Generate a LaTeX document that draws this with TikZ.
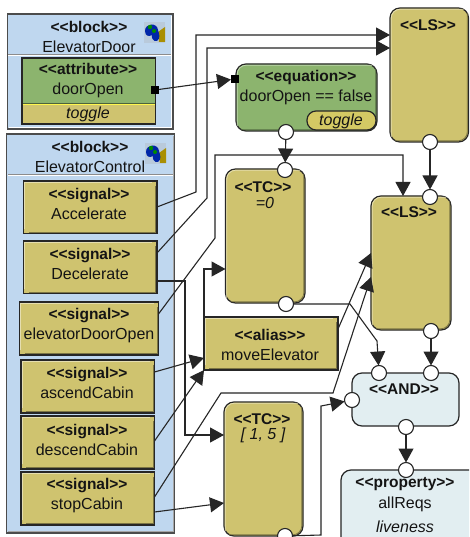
\documentclass[tikz,border=0pt]{standalone}
\usepackage{fontspec}
\setmainfont{Liberation Sans}
\usetikzlibrary{calc,arrows.meta}
\definecolor{gold}{HTML}{CFC36F}
\definecolor{leaf}{HTML}{8CB46E}
\definecolor{sky}{HTML}{BFD7EF}
\definecolor{mist}{HTML}{E2EEF1}
\definecolor{ink}{HTML}{262626}
\newcommand{\bx}[6]{%
  \pgfmathsetmacro{\bw}{#5-#3}\pgfmathsetmacro{\bh}{#6-#4}%
  \node[#1,minimum width=\bw pt,minimum height=\bh pt,anchor=north west] (#2) at (#3,#4) {};}
\newcommand{\bev}[3]{%
  \draw[draw=#2!55!white,line width=.8pt,rounded corners=#3pt] ($(#1.south west)+(1.2,-5)$) -- ($(#1.north west)+(1.2,1.2)$) -- ($(#1.north east)+(-5,1.2)$);
  \draw[draw=#2!60!black,line width=.8pt,rounded corners=#3pt] ($(#1.south west)+(5,-1.2)$) -- ($(#1.south east)+(-1.2,-1.2)$) -- ($(#1.north east)+(-1.2,5)$);}
\newcommand{\icon}[2]{%
  \begin{scope}[shift={(#1,#2)}]
    \fill[fill=black!12!sky!80!white] (0,0) rectangle (21,21);
    \fill[fill=olive!75!orange] (14,10) -- (21,5) -- (21,20) -- (15,20) -- cycle;
    \fill[fill=blue!60!black!85!cyan] (1,9) .. controls (1,1) and (13,0) .. (14,8) .. controls (15,12) and (17,16) .. (13,19) .. controls (9,20) and (7,15) .. (8,13) .. controls (5,15) and (1,14) .. (1,9) -- cycle;
    \fill[fill=green!55!black] (6,5) circle[radius=2.2] (10,9) circle[radius=2];
  \end{scope}}
\tikzset{
  x=1pt,y=-1pt,
  boxbase/.style={draw=ink,line width=1.2pt,inner sep=0pt,outer sep=0pt},
  blockbox/.style={boxbase,fill=sky,draw=black!70},
  goldbox/.style={boxbase,fill=gold},
  leafbox/.style={boxbase,fill=leaf},
  goldround/.style={goldbox,rounded corners=10pt},
  leafround/.style={leafbox,rounded corners=10pt},
  mistround/.style={boxbase,fill=mist,rounded corners=10pt},
  pill/.style={boxbase,fill=gold!90!yellow,rounded corners=9pt},
  txt/.style={inner sep=0pt,align=center,text=black!92,font=\fontsize{16}{20}\selectfont},
  hd/.style={font=\fontsize{15.5}{20}\selectfont\bfseries},
  it/.style={font=\fontsize{16}{20}\selectfont\itshape},
  port/.style={circle,draw=ink,fill=white,line width=1.1pt,minimum size=15pt,inner sep=0pt,outer sep=0pt},
  sq/.style={fill=black,minimum size=8pt,inner sep=0pt,outer sep=0pt},
  wire/.style={draw=ink,line width=1.1pt,line join=miter,-{Triangle[length=14pt,width=15pt]}},
  rule1/.style={draw=white,line width=1pt},
  rule2/.style={draw=black!45,line width=.7pt},
}
\begin{document}
\begin{tikzpicture}
\clip (0,0) rectangle (469,537);
\fill[white] (0,0) rectangle (469,537);
% blocks
\bx{blockbox}{bD}{7.5}{14}{173}{129}
\bx{blockbox}{bC}{6.5}{134}{174.5}{533}
\draw[rule2] (8,54.5) -- (172,54.5); \draw[rule1] (8,55.7) -- (172,55.7);
\draw[rule2] (8,174.5) -- (173,174.5); \draw[rule1] (8,175.7) -- (173,175.7);
\draw[rule1,line width=.8pt] (9,127) -- (171.5,127) -- (171.5,16);
\draw[draw=black!35,line width=1pt] (8,531) -- (173,531) -- (173,136);
\icon{144}{22}
\icon{145}{143}
% attribute
\bx{leafbox}{aT}{22}{58}{155.5}{124}
\fill[gold] (22.6,104) rectangle (154.9,123.4);
\draw[draw=yellow!70!white,line width=.9pt] (22.6,104) -- (154.9,104);
\draw[draw=black!45!leaf,line width=.6pt] (22.6,103) -- (154.9,103);
% signals
\bx{goldbox}{sA}{23.5}{181}{157}{233.5}\bev{sA}{gold}{0}
\bx{goldbox}{sD}{23.5}{241}{157}{293.7}\bev{sD}{gold}{0}
\bx{goldbox}{sE}{19.5}{302}{158.5}{355}\bev{sE}{gold}{0}
\bx{goldbox}{sU}{21}{360}{154.5}{413}\bev{sU}{gold}{0}
\bx{goldbox}{sW}{21}{416}{154.5}{469}\bev{sW}{gold}{0}
\bx{goldbox}{sS}{21}{472}{154.5}{525}\bev{sS}{gold}{0}
% right-hand shapes
\bx{goldround}{ls}{390}{8}{468.5}{142}\bev{ls}{gold}{9}
\bx{leafround}{eq}{236}{64}{377}{131}\bev{eq}{leaf}{9}
\bx{pill}{tg}{307}{111}{376}{130}
\bx{goldround}{tz}{225.5}{169}{305}{303}\bev{tz}{gold}{9}
\bx{goldround}{lt}{371}{196}{451}{330}\bev{lt}{gold}{9}
\bx{goldbox}{al}{204}{317}{338}{370}\bev{al}{gold}{0}
\bx{goldround}{tr}{224}{402}{303}{536}\bev{tr}{gold}{9}
\bx{mistround}{an}{352}{373}{459}{426}
\bx{mistround}{pr}{341}{470}{490}{560}
% labels
\node[txt] (tD) at (89,37) {\textbf{\fontsize{15.5}{20}\selectfont <{}<block>{}>}\\ElevatorDoor};
\node[txt] (tAt) at (88,81) {\textbf{\fontsize{15.5}{20}\selectfont <{}<attribute>{}>}\\doorOpen};
\node[txt,it] (tAg) at (88,114) {toggle};
\node[txt] (tC) at (90,157) {\textbf{\fontsize{15.5}{20}\selectfont <{}<block>{}>}\\ElevatorControl};
\node[txt] (tA) at (89,204) {\textbf{\fontsize{15.5}{20}\selectfont <{}<signal>{}>}\\Accelerate};
\node[txt] (tDc) at (90,264) {\textbf{\fontsize{15.5}{20}\selectfont <{}<signal>{}>}\\Decelerate};
\node[txt] (tE) at (89,326) {\textbf{\fontsize{15.5}{20}\selectfont <{}<signal>{}>}\\elevatorDoorOpen};
\node[txt] (tU) at (87,383) {\textbf{\fontsize{15.5}{20}\selectfont <{}<signal>{}>}\\ascendCabin};
\node[txt] (tW) at (87,440) {\textbf{\fontsize{15.5}{20}\selectfont <{}<signal>{}>}\\descendCabin};
\node[txt] (tS) at (87,496) {\textbf{\fontsize{15.5}{20}\selectfont <{}<signal>{}>}\\stopCabin};
\node[txt,hd] (tL1) at (428,25) {<{}<LS>{}>};
\node[txt] (tQ) at (306,88) {\textbf{\fontsize{15.5}{20}\selectfont <{}<equation>{}>}\\doorOpen == false};
\node[txt,it] (tG) at (341,121) {toggle};
\node[txt,hd] (tZ1) at (263,187) {<{}<TC>{}>};
\node[txt,it] (tZ2) at (265,203) {=0};
\node[txt,hd] (tL2) at (409,212) {<{}<LS>{}>};
\node[txt] (tAl) at (270,344.5) {\textbf{\fontsize{15.5}{20}\selectfont <{}<alias>{}>}\\moveElevator};
\node[txt,hd] (tR1) at (262,419) {<{}<TC>{}>};
\node[txt,it] (tR2) at (263,435) {[ 1, 5 ]};
\node[txt,hd] (tN) at (404,389) {<{}<AND>{}>};
\node[txt,hd] (tP1) at (405,484) {<{}<property>{}>};
\node[txt] (tP2) at (405,504) {allReqs};
\node[txt,it] (tP3) at (405,527) {liveness};
% ports
\node[sq] (pAt) at (155,90) {};
\node[sq] (pEq) at (235,79) {};
\node[port] (pLs) at (430,142) {};
\node[port] (pEb) at (286,132) {};
\node[port] (pZt) at (285,170) {};
\node[port] (pZb) at (286,304) {};
\node[port] (pLt) at (430,197) {};
\node[port] (pLb) at (431,331) {};
\node[port] (pNa) at (379,373) {};
\node[port] (pNb) at (431,373) {};
\node[port] (pNl) at (352,400) {};
\node[port] (pNo) at (406,427) {};
\node[port] (pPr) at (406,470) {};
\node[port] (pRb) at (285,536) {};
% connector attachment points
\coordinate (oA) at ($(sA.north east)+(0,26)$);
\coordinate (oD1) at ($(sD.north east)+(0,12)$);
\coordinate (oD2) at ($(sD.north east)+(0,40)$);
\coordinate (oE) at ($(sE.north east)+(0,12)$);
\coordinate (oU) at ($(sU.north east)+(0,12)$);
\coordinate (oW) at ($(sW.north east)+(0,25)$);
\coordinate (oS1) at ($(sS.north east)+(0,25)$);
\coordinate (oS2) at ($(sS.north east)+(0,40)$);
\coordinate (iL1) at ($(ls.north west)+(0,27)$);
\coordinate (iL2) at ($(ls.north west)+(0,40)$);
\coordinate (iLt) at ($(lt.north west)+(32,0)$);
\coordinate (iL3) at ($(lt.north west)+(0,57)$);
\coordinate (iL4) at ($(lt.north west)+(0,81)$);
\coordinate (iZ) at ($(tz.north west)+(0,100)$);
\coordinate (iR1) at ($(tr.north west)+(0,33)$);
\coordinate (iR2) at ($(tr.north west)+(0,101)$);
\coordinate (iAa) at ($(al.north west)+(0,41)$);
\coordinate (iAb) at ($(al.south west)+(0,0)$);
\coordinate (oAt) at (al.north west);
\coordinate (oAr) at ($(al.north east)+(0,12)$);
% connectors
\draw[wire] (pAt) -- (pEq);
\draw[wire] (oA) -- (196,192) -- (196,35) -- (iL1);
\draw[wire] (oD1) -- (207,198) -- (207,48) -- (iL2);
\draw[wire] (oE) -- (215,238) -- (215,155) -- (403,155) -- (iLt);
\draw[wire] (oD2) -- (185,281) -- (185,435) -- (iR1);
\draw[wire] (oAt) -- (204,269) -- (iZ);
\draw[wire] (oU) -- (iAa);
\draw[wire] (oW) -- (iAb);
\draw[wire] (oS1) -- (221,393) -- (333,393) -- (iL4);
\draw[wire] (oS2) -- (iR2);
\draw[wire] (oAr) -- (iL3);
\draw[wire] (pZb) -- (350,304) -- (377,341) -- (pNa);
\draw[wire] (pRb) -- (321,535) -- (321,406) -- (pNl);
\draw[wire] (pLs) -- (pLt);
\draw[wire] (pEb) -- (pZt);
\draw[wire] (pLb) -- (pNb);
\draw[wire] (pNo) -- (pPr);
\end{tikzpicture}
\end{document}
